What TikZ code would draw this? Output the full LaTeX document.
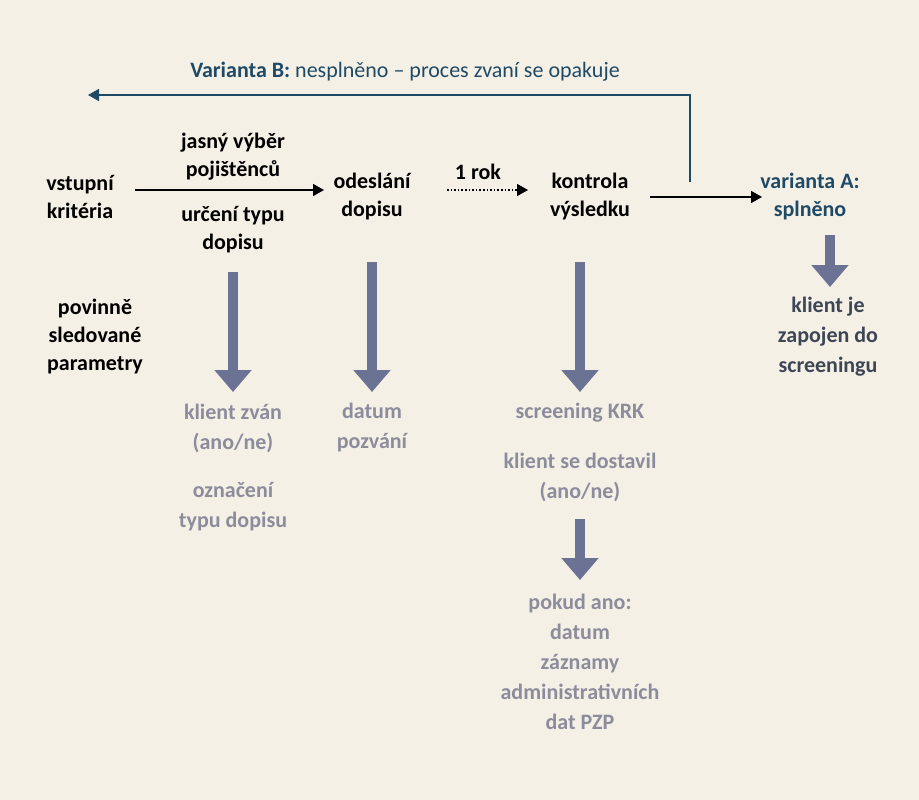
\documentclass[tikz,border=0pt]{standalone}
\usepackage{fontspec}
\setmainfont{Carlito}
\usetikzlibrary{arrows.meta}
\definecolor{bg}{HTML}{F5F0E6}
\definecolor{teal}{HTML}{1F4A66}
\definecolor{lgray}{HTML}{8C8C9C}
\definecolor{dgray}{HTML}{3E4656}
\definecolor{arr}{HTML}{6C7294}
\tikzset{
 lbl/.style={align=center,font=\fontsize{22}{30}\selectfont,inner sep=0pt},
 blk/.style={lbl,font=\fontsize{22}{28}\selectfont\bfseries,text=black},
 gry/.style={lbl,text=lgray,font=\fontsize{22}{30}\selectfont\bfseries},
 tl/.style={blk,text=teal},
 ar/.style={-{Triangle[length=11pt,width=12pt]},line width=1.6pt},
 bigarrow/.style={arr,line width=10pt,-{Triangle[length=22pt,width=36pt]}}
}
\begin{document}
\begin{tikzpicture}[x=1pt,y=-1pt]
\fill[bg] (0,0) rectangle (919,800);
\node[lbl,text=teal] (vb) at (405,72) {\textbf{Varianta B:} nespln\v{e}no -- proces zvaní se opakuje};
\node[blk] (vk) at (80,197) {vstupní\\kritéria};
\node[blk] (jv) at (233,157) {jasný výb\v{e}r\\poji\v{s}t\v{e}nc\r{u}};
\node[blk] (ut) at (233,230) {ur\v{c}ení typu\\dopisu};
\node[blk] (od) at (372,197) {odeslání\\dopisu};
\node[blk] (rok) at (478,172) {1 rok};
\node[blk] (ko) at (590,197) {kontrola\\výsledku};
\node[tl] (va) at (810,197) {varianta A:\\spln\v{e}no};
\node[blk] (pov) at (95,337) {povinn\v{e}\\sledované\\parametry};
\node[gry] (kz) at (233,428) {klient zván\\(ano/ne)};
\node[gry] (ozn) at (233,507) {ozna\v{c}ení\\typu dopisu};
\node[gry] (dp) at (372,428) {datum\\pozvání};
\node[gry] (sk) at (580,413) {screening KRK};
\node[gry] (kd) at (580,477) {klient se dostavil\\(ano/ne)};
\node[gry] (pa) at (580,662) {pokud ano:\\datum\\záznamy\\administrativních\\dat PZP};
\node[lbl,text=dgray,font=\fontsize{22}{30}\selectfont\bfseries] (kj) at (828,337) {klient je\\zapojen do\\screeningu};
\coordinate (s1) at (135,190); \coordinate (e1) at (324,190);
\draw[ar] (s1) -- (e1);
\coordinate (s2) at (447,190); \coordinate (e2) at (528,190);
\draw[ar,dotted,line width=1.2pt] (s2) -- (e2);
\coordinate (s3) at (650,197); \coordinate (e3) at (762,197);
\draw[ar] (s3) -- (e3);
\coordinate (f0) at (690,182); \coordinate (f1) at (690,95); \coordinate (f2) at (88,95);
\draw[teal,line width=1.6pt,-{Triangle[length=11pt,width=12pt]}] (f0) -- (f1) -- (f2);
\draw[bigarrow] (233,272) -- (233,392);
\draw[bigarrow] (372,262) -- (372,392);
\draw[bigarrow] (580,262) -- (580,392);
\draw[bigarrow] (830,235) -- (830,287);
\draw[bigarrow] (580,519) -- (580,580);
\end{tikzpicture}
\end{document}
